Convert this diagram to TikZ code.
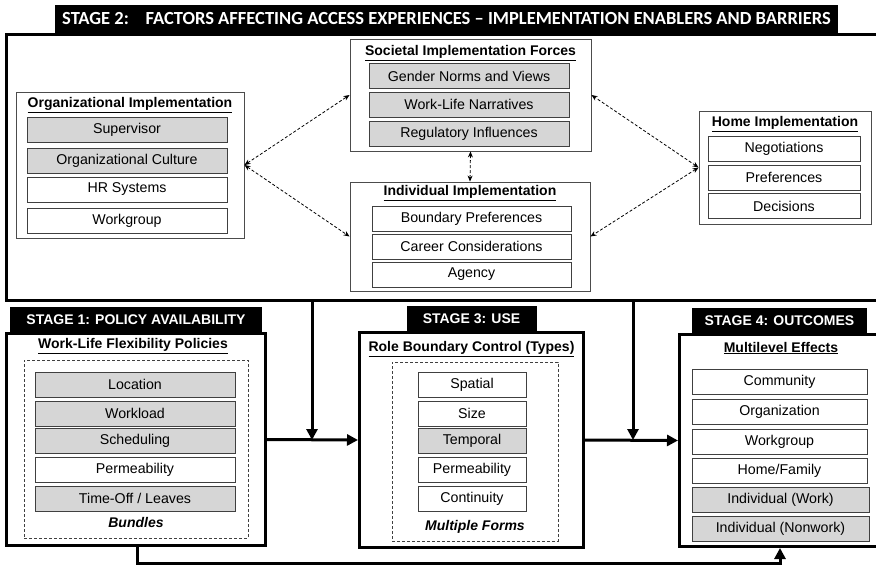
\documentclass[tikz,border=0pt]{standalone}
\usepackage{fontspec}
\setmainfont{Liberation Sans}
\newfontfamily\headfont{Carlito}
\usetikzlibrary{arrows.meta,positioning}

\definecolor{boxgray}{HTML}{D6D6D6}

\tikzset{
  itembox/.style={draw=black!75, line width=0.9pt, minimum height=25,
    inner sep=0pt, font=\fontsize{14.2}{16}\selectfont},
  shaded/.style={fill=boxgray},
  implbox/.style={draw=black!70, line width=0.9pt, inner sep=0pt},
  stagebox/.style={draw, line width=3pt, inner sep=0pt},
  stagehead/.style={fill=black, text=white, inner sep=0pt, minimum height=25,
    font=\bfseries\fontsize{14}{16}\selectfont},
  boxtitle/.style={inner sep=0pt, font=\bfseries\fontsize{14}{16}\selectfont},
  groupbox/.style={draw=black!75, line width=0.8pt, dash pattern=on 3pt off 2pt,
    inner sep=0pt},
  flow/.style={line width=3pt, -{Triangle[length=11pt,width=11pt]}},
  dashlink/.style={line width=0.8pt, dash pattern=on 3pt off 2pt,
    {Stealth[length=6pt,width=5pt]}-{Stealth[length=6pt,width=5pt]}}
}
\newcommand{\itemnode}[4][]{%
  \node[itembox, #1] (#2) at (#3) {#4};
}

\begin{document}
\begin{tikzpicture}[x=1pt, y=-1pt]
  \useasboundingbox (0,0) rectangle (876,568);
  \clip (0,0) rectangle (876,568);

  % stage 2 frame
  \node[stagebox, minimum width=880, minimum height=265.5] (frame) at (446.5,167.25) {};
  \node[stagehead, minimum width=783, minimum height=28, above=0pt of frame,
    font=\headfont\bfseries\fontsize{18.5}{20}\selectfont] (head2)
    {STAGE 2:\hspace{0.9em}FACTORS AFFECTING ACCESS EXPERIENCES – IMPLEMENTATION ENABLERS AND BARRIERS};

  \node[implbox, minimum width=228, minimum height=146] (org) at (130,165) {};
  \node[boxtitle] (orgtitle) at (130,105) {\underline{Organizational Implementation}};
  \itemnode[shaded, minimum width=200]{sup}{127,129.5}{Supervisor}
  \itemnode[shaded, minimum width=200]{orgcult}{127,160.5}{Organizational Culture}
  \itemnode[minimum width=200]{hrsys}{127,189.5}{HR Systems}
  \itemnode[minimum width=200]{wgrp}{127,220.5}{Workgroup}

  \node[implbox, minimum width=241, minimum height=112] (soc) at (470.5,95) {};
  \node[boxtitle] (soctitle) at (470.5,53) {\underline{Societal Implementation Forces}};
  \itemnode[shaded, minimum width=200]{gender}{469,76}{Gender Norms and Views}
  \itemnode[shaded, minimum width=200]{wlnarr}{469,104.5}{Work-Life Narratives}
  \itemnode[shaded, minimum width=200]{reg}{469,134}{Regulatory Influences}

  \node[implbox, minimum width=240, minimum height=109] (ind) at (470,236.5) {};
  \node[boxtitle] (indtitle) at (470,193) {\underline{Individual Implementation}};
  \itemnode[minimum width=199]{bpref}{471.5,218.5}{Boundary Preferences}
  \itemnode[minimum width=199]{career}{471.5,246.5}{Career Considerations}
  \itemnode[minimum width=199]{agency}{471.5,274.5}{Agency}

  \node[implbox, minimum width=172, minimum height=113] (home) at (785,167.5) {};
  \node[boxtitle] (hometitle) at (785,124) {\underline{Home Implementation}};
  \itemnode[minimum width=152]{negot}{784,148.5}{Negotiations}
  \itemnode[minimum width=152]{hpref}{784,177.5}{Preferences}
  \itemnode[minimum width=152]{decis}{784,206}{Decisions}

  \draw[dashlink] (org.east) -- (soc.west);
  \draw[dashlink] (org.east) -- (ind.west);
  \draw[dashlink] (home.west) -- (soc.east);
  \draw[dashlink] (home.west) -- (ind.east);
  \draw[dashlink] (soc.south) -- (ind.north);

  % stage 1
  \node[stagebox, minimum width=259, minimum height=212] (s1) at (136,439.5) {};
  \node[stagehead, minimum width=252, above=0pt of s1] (head1) {STAGE 1: POLICY AVAILABILITY};
  \node[boxtitle] (s1title) at (133,346) {\underline{Work-Life Flexibility Policies}};
  \node[groupbox, minimum width=224, minimum height=178] (bundles) at (136,449) {};
  \itemnode[shaded, minimum width=200]{loc}{135,384.5}{Location}
  \itemnode[shaded, minimum width=200]{wload}{135,413.5}{Workload}
  \itemnode[shaded, minimum width=200]{sched}{135,440.5}{Scheduling}
  \itemnode[minimum width=200]{perm1}{135,469.5}{Permeability}
  \itemnode[shaded, minimum width=200]{timeoff}{135,498.5}{Time-Off / Leaves}
  \node[boxtitle, font=\bfseries\itshape\fontsize{14}{16}\selectfont] (bundleslbl) at (136,522) {Bundles};

  % stage 3
  \node[stagebox, minimum width=224, minimum height=215] (s3) at (471.5,440) {};
  \node[stagehead, minimum width=130, above=0pt of s3] (head3) {STAGE 3: USE};
  \node[boxtitle] (s3title) at (471.5,349) {\underline{Role Boundary Control (Types)}};
  \node[groupbox, minimum width=166, minimum height=179] (forms) at (475,451.5) {};
  \itemnode[minimum width=108]{spatial}{472,384.5}{Spatial}
  \itemnode[minimum width=108]{size}{472,413.5}{Size}
  \itemnode[shaded, minimum width=108]{temporal}{472,440.5}{Temporal}
  \itemnode[minimum width=108]{perm3}{472,469.5}{Permeability}
  \itemnode[minimum width=108]{contin}{472,498.5}{Continuity}
  \node[boxtitle, font=\bfseries\itshape\fontsize{14}{16}\selectfont] (formslbl) at (475,527) {Multiple Forms};

  % stage 4
  \node[stagebox, minimum width=200, minimum height=212] (s4) at (779.5,440.5) {};
  \node[stagehead, minimum width=175, above=0pt of s4] (head4) {STAGE 4: OUTCOMES};
  \node[boxtitle] (s4title) at (781,348) {\underline{Multilevel Effects}};
  \itemnode[minimum width=175]{comm}{779.5,382}{Community}
  \itemnode[minimum width=175]{orgz}{779.5,411.5}{Organization}
  \itemnode[minimum width=175]{wgrp4}{779.5,441.5}{Workgroup}
  \itemnode[minimum width=175]{homefam}{779.5,470.5}{Home/Family}
  \itemnode[shaded, minimum width=177]{indwork}{780.5,499.5}{Individual (Work)}
  \itemnode[shaded, minimum width=177]{indnon}{780.5,528.5}{Individual (Nonwork)}

  % main flow
  \coordinate (j1) at (312,440);
  \coordinate (j2) at (633,440);
  \coordinate (b1) at (137,563);
  \coordinate (b2) at (780,563);
  \draw[flow] (s1.east) -- (s3.west);
  \draw[flow] (s3.east) -- (s4.west);
  \draw[flow] (frame.south -| j1) -- (j1);
  \draw[flow] (frame.south -| j2) -- (j2);
  \draw[flow] (s1.south -| b1) |- (b2) -- (b2 |- s4.south);
\end{tikzpicture}
\end{document}
